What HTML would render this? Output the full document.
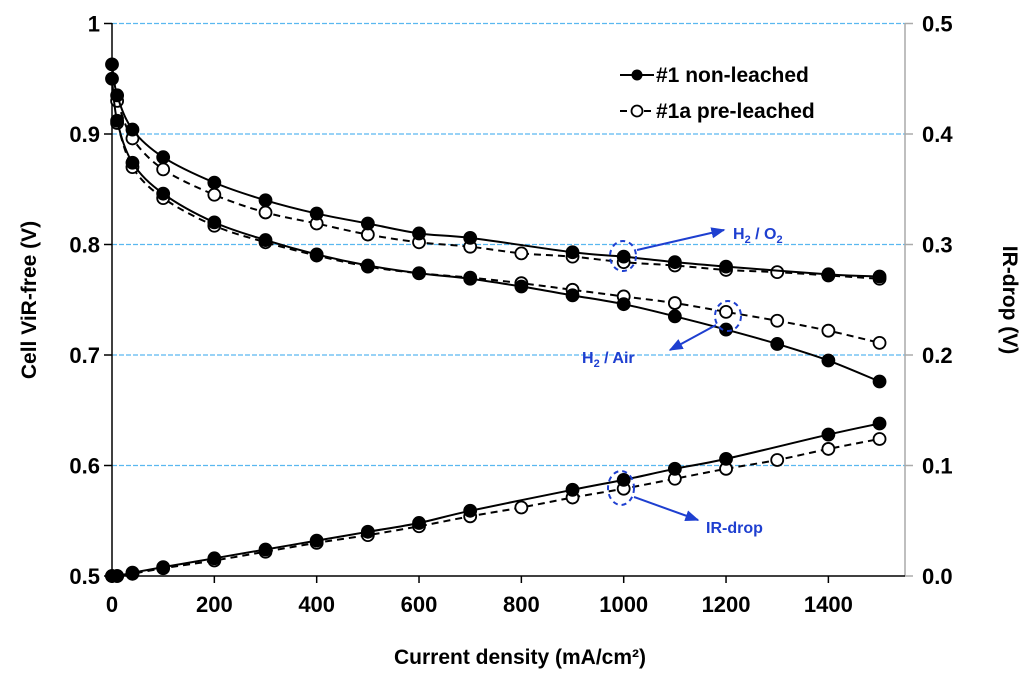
<!DOCTYPE html>
<html><head><meta charset="utf-8"><style>
body{margin:0;background:#fff}
svg text{font-family:"Liberation Sans",Arial,sans-serif;font-weight:bold}
</style></head><body>
<svg id="c" width="1024" height="679">
<defs>
<marker id="ah" viewBox="0 0 10 10" refX="9" refY="5" markerWidth="7" markerHeight="7" orient="auto"><path d="M0,1L10,5L0,9z" fill="#1e3fd0"/></marker>
</defs>
<g id="grid"></g>
<g id="axes"></g>
<g id="series"></g>
<text x="520" y="664" font-size="21" text-anchor="middle">Current density (mA/cm²)</text>
<text transform="translate(36,300) rotate(-90)" font-size="21" text-anchor="middle">Cell ViR-free (V)</text>
<text transform="translate(1003,300) rotate(90)" font-size="21" text-anchor="middle">IR-drop (V)</text>
<g>
<g>
<line x1="620" y1="75" x2="654" y2="75" stroke="#000" stroke-width="2"/><circle cx="637" cy="75" r="5.5" fill="#000"/>
<text x="656" y="82" font-size="21">#1 non-leached</text></g>
<g>
<line x1="620" y1="111" x2="654" y2="111" stroke="#000" stroke-width="2" stroke-dasharray="7,5"/><circle cx="637" cy="111" r="5.5" fill="#fff" stroke="#000" stroke-width="1.8"/>
<text x="656" y="118" font-size="21">#1a pre-leached</text></g>
</g>
<g fill="none" stroke="#1e3fd0" stroke-width="2">
<ellipse cx="623" cy="256" rx="13" ry="15" stroke-dasharray="5,4"/>
<line x1="637" y1="250" x2="724" y2="230" marker-end="url(#ah)"/>
<ellipse cx="728" cy="316" rx="13" ry="15" stroke-dasharray="5,4"/>
<line x1="716" y1="325" x2="670" y2="350" marker-end="url(#ah)"/>
<ellipse cx="621" cy="488" rx="13" ry="17" stroke-dasharray="5,4"/>
<line x1="634" y1="497" x2="698" y2="520" marker-end="url(#ah)"/>
</g>
<text x="733" y="239" font-size="16" fill="#1e3fd0">H<tspan font-size="11" dy="4">2</tspan><tspan dy="-4"> / O</tspan><tspan font-size="11" dy="4">2</tspan></text>
<text x="582" y="363" font-size="16" fill="#1e3fd0">H<tspan font-size="11" dy="4">2</tspan><tspan dy="-4"> / Air</tspan></text>
<text x="706" y="533" font-size="16" fill="#1e3fd0">IR-drop</text>
</svg>
<script>
const xs=[0,10,40,100,200,300,400,500,600,700,800,900,1000,1100,1200,1300,1400,1500];
const o2Non=[.963,.935,.904,.879,.856,.840,.828,.819,.810,.806,null,.793,.789,.784,.780,null,.773,.771];
const o2Pre=[null,.930,.896,.868,.845,.829,.819,.809,.802,.798,.792,.789,.784,.781,.777,.775,.772,.769];
const airNon=[.950,.912,.874,.846,.820,.804,.791,.781,.774,.769,.762,.754,.746,.735,.723,.710,.695,.676];
const airPre=[null,.910,.870,.842,.817,.802,.790,.780,.774,.770,.765,.759,.753,.747,.739,.731,.722,.711];
const irNon=[0,0,.003,.008,.016,.024,.032,.040,.048,.059,null,.078,.087,.097,.106,null,.128,.138];
const irPre=[0,0,.002,.007,.014,.022,.030,.037,.045,.054,.062,.071,.079,.088,.097,.105,.115,.124];
const xTicks=[0,200,400,600,800,1000,1200,1400];
const yTicks=[0.5,0.6,0.7,0.8,0.9,1];
const y2Ticks=[0,0.1,0.2,0.3,0.4,0.5];
const X=v=>112+v*0.5117, Y=v=>576-(v-0.5)*1105, Y2=v=>576-v*1105;
const NS="http://www.w3.org/2000/svg";
function mk(p,t,a){const e=document.createElementNS(NS,t);for(const k in a)e.setAttribute(k,a[k]);p.appendChild(e);return e;}
const G=document.getElementById('grid'),A=document.getElementById('axes'),S=document.getElementById('series');
yTicks.forEach(t=>{if(t>0.5){const l=mk(G,'line',{x1:112,x2:905,y1:Y(t),y2:Y(t),stroke:'#5ab8f0','stroke-dasharray':'5,2','stroke-width':1.2});

}
mk(A,'line',{x1:104,x2:112,y1:Y(t),y2:Y(t),stroke:'#000','stroke-width':1.5});
const tx=mk(A,'text',{x:100,y:Y(t)+8,'font-size':22,'text-anchor':'end'});tx.textContent=t===1?'1':t===0.5?'0.5':t.toFixed(1);

});
y2Ticks.forEach(t=>{mk(A,'line',{x1:905,x2:913,y1:Y2(t),y2:Y2(t),stroke:'#aaa','stroke-width':1.5});
const tx=mk(A,'text',{x:922,y:Y2(t)+8,'font-size':22});tx.textContent=t.toFixed(1);

});
xTicks.forEach(t=>{mk(A,'line',{x1:X(t),x2:X(t),y1:576,y2:583,stroke:'#000','stroke-width':1.5});
const tx=mk(A,'text',{x:X(t),y:612,'font-size':22,'text-anchor':'middle'});tx.textContent=t;

});
mk(A,'line',{x1:905,x2:905,y1:23,y2:576,stroke:'#aaa','stroke-width':1.5});
mk(A,'line',{x1:112,x2:112,y1:23,y2:577,stroke:'#000','stroke-width':1.5});
mk(A,'line',{x1:111,x2:905,y1:576,y2:576,stroke:'#000','stroke-width':1.5});
function path(pts){let d='M'+pts[0][0]+','+pts[0][1];for(let i=0;i<pts.length-1;i++){const p0=pts[i-1]||pts[i],p1=pts[i],p2=pts[i+1],p3=pts[i+2]||p2;
d+=' C'+(p1[0]+(p2[0]-p0[0])/6)+','+(p1[1]+(p2[1]-p0[1])/6)+' '+(p2[0]-(p3[0]-p1[0])/6)+','+(p2[1]-(p3[1]-p1[1])/6)+' '+p2[0]+','+p2[1];}return d;}
function draw(vals,yf,filled,name){const pts=[];xs.forEach((x,i)=>{if(vals[i]!=null)pts.push([X(x),yf(vals[i])]);});
const g=mk(S,'g',{});


mk(g,'path',{d:path(pts),fill:'none',stroke:'#000','stroke-width':2,'stroke-dasharray':filled?'none':'7,5'});
pts.forEach(p=>{const c=mk(g,'circle',{cx:p[0],cy:p[1],r:6,fill:filled?'#000':'#fff',stroke:'#000','stroke-width':1.8});

});}
draw(o2Pre,Y,false,'h2-o2-pre-leached');draw(airPre,Y,false,'h2-air-pre-leached');draw(irPre,Y2,false,'ir-drop-pre-leached');
draw(o2Non,Y,true,'h2-o2-non-leached');draw(airNon,Y,true,'h2-air-non-leached');draw(irNon,Y2,true,'ir-drop-non-leached');
</script>
</body></html>
